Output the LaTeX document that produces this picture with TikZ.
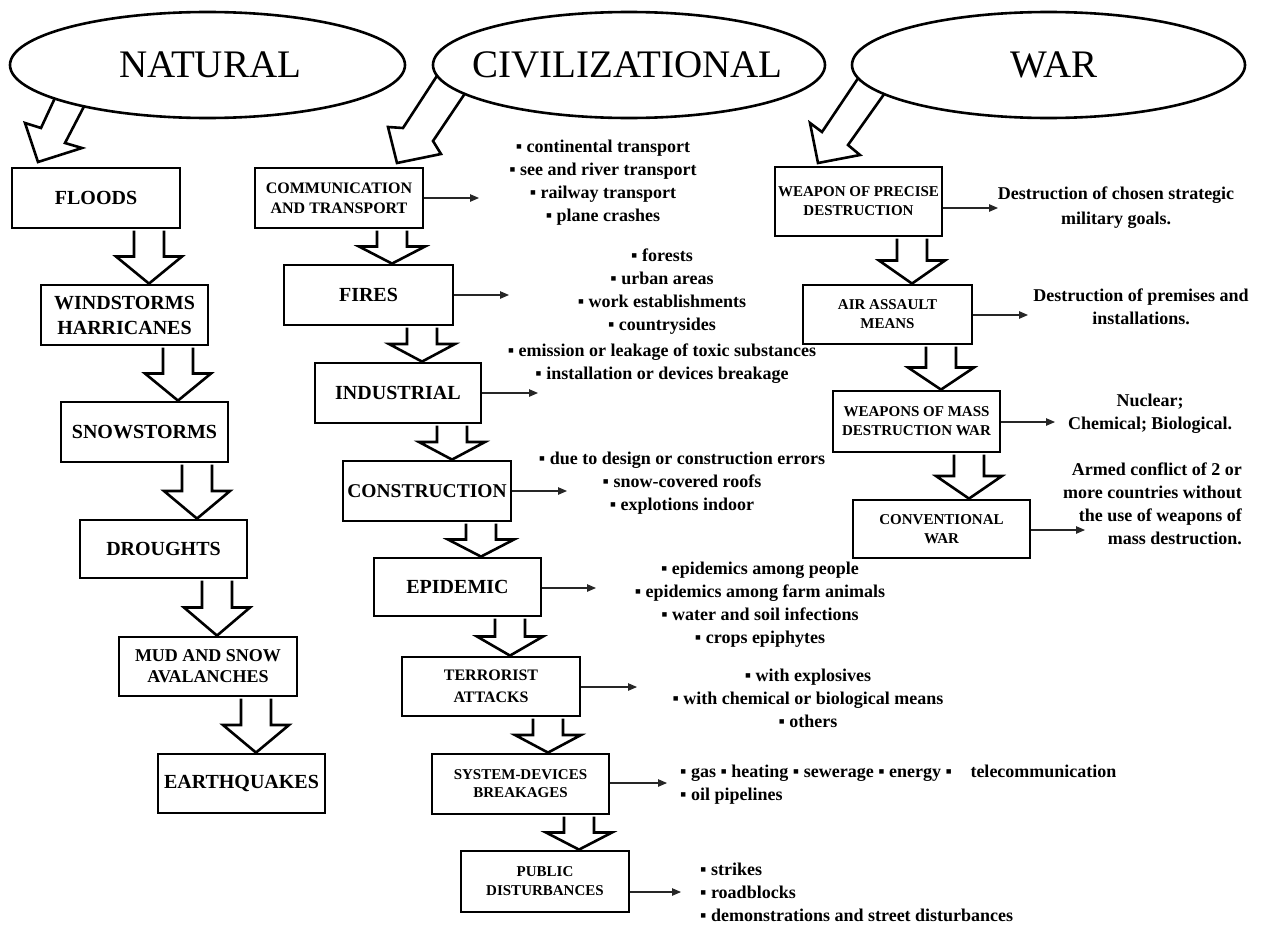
\documentclass[tikz,border=0pt]{standalone}
\usepackage{fontspec}
\setmainfont{Liberation Serif}
\usetikzlibrary{calc,arrows.meta}
\newcommand\bul{\char"25AA}
\newcommand\hdown[3]{%
  \draw[hollow] let \p1=(#2.south), \p2=(#3.north), \n1={(\y1+\y2)/2} in
    ({#1pt-15pt},{\y1-1.3pt}) -- ({#1pt-15pt},\n1) -- ({#1pt-33pt},\n1) -- (#1pt,\y2)
    -- ({#1pt+33pt},\n1) -- ({#1pt+15pt},\n1) -- ({#1pt+15pt},{\y1-1.3pt});}
\tikzset{
  box/.style={draw, line width=2.8pt, inner sep=0pt, align=center},
  hollow/.style={draw, line width=2.6pt, fill=white, line join=miter},
  sarrow/.style={line width=1.1pt, black!85, -{Triangle[length=9pt,width=7.5pt]}},
  lst/.style={align=center, font=\fontsize{18}{23}\selectfont\bfseries, inner sep=0pt},
  ell/.style={line width=2.6pt, fill=white},
  big/.style={font=\fontsize{39}{45}\selectfont, inner sep=0pt},
  fA/.style={font=\fontsize{20}{25}\selectfont\bfseries},
  fB/.style={font=\fontsize{16}{20}\selectfont\bfseries},
  fC/.style={font=\fontsize{15}{19}\selectfont\bfseries},
}
\begin{document}
\begin{tikzpicture}[x=1pt,y=-1pt]
\useasboundingbox (0,0) rectangle (1261,926);
% diagonal hollow arrows (drawn before the ellipses)
\draw[hollow] (61,85) -- (41,128) -- (25,123) -- (38,162) -- (82,148) -- (65,143) -- (91,93) -- cycle;
\draw[hollow] (446,62) -- (403,128) -- (388,127) -- (397,163) -- (441,154) -- (433,141) -- (474,80) -- cycle;
\draw[hollow] (867,65) -- (822,132) -- (810,123) -- (818,163) -- (860,155) -- (848,145) -- (892,83) -- cycle;
% ellipses
\draw[ell] (207.5,65) ellipse [x radius=197.5, y radius=53];
\draw[ell] (629,65) ellipse [x radius=196, y radius=53];
\draw[ell] (1048.5,65) ellipse [x radius=196.5, y radius=53];
\node[big] (nat) at (210,65) {NATURAL};
\node[big] (civ) at (627.5,65) {CIVILIZATIONAL};
\node[big] (war) at (1054,65) {WAR};
% natural column
\node[box,fA,minimum width=168,minimum height=60] (floods) at (96,198) {FLOODS};
\node[box,fA,minimum width=167,minimum height=60] (wind) at (124.5,315) {WINDSTORMS\\HARRICANES};
\node[box,fA,minimum width=167,minimum height=60] (snow) at (144.5,432) {SNOWSTORMS};
\node[box,fA,minimum width=167,minimum height=58] (drought) at (163.5,549) {DROUGHTS};
\node[box,font=\fontsize{18}{21}\selectfont\bfseries,minimum width=178,minimum height=59] (mud) at (208,666.5) {MUD AND SNOW\\AVALANCHES};
\node[box,fA,minimum width=167,minimum height=59] (earth) at (241.5,783.5) {EARTHQUAKES};
\hdown{149}{floods}{wind}
\hdown{178}{wind}{snow}
\hdown{197}{snow}{drought}
\hdown{217}{drought}{mud}
\hdown{256}{mud}{earth}
% civilizational column
\node[box,fB,minimum width=168,minimum height=60] (comm) at (339,198) {COMMUNICATION\\AND TRANSPORT};
\node[box,fA,minimum width=169,minimum height=60] (fires) at (368.5,295) {FIRES};
\node[box,fA,minimum width=166,minimum height=60] (ind) at (398,393) {INDUSTRIAL};
\node[box,font=\fontsize{19.5}{24}\selectfont\bfseries,minimum width=168,minimum height=60] (cons) at (427,491) {CONSTRUCTION};
\node[box,fA,minimum width=167,minimum height=58] (epi) at (457.5,587) {EPIDEMIC};
\node[box,font=\fontsize{16}{22}\selectfont\bfseries,minimum width=178,minimum height=59] (terr) at (491,686.5) {TERRORIST\\ATTACKS};
\node[box,font=\fontsize{15}{18}\selectfont\bfseries,minimum width=177,minimum height=60] (sys) at (520.5,784) {SYSTEM-DEVICES\\BREAKAGES};
\node[box,fC,minimum width=168,minimum height=61] (pub) at (545,881.5) {PUBLIC\\DISTURBANCES};
\hdown{392}{comm}{fires}
\hdown{422}{fires}{ind}
\hdown{452}{ind}{cons}
\hdown{481}{cons}{epi}
\hdown{510}{epi}{terr}
\hdown{548}{terr}{sys}
\hdown{579}{sys}{pub}
% war column
\node[box,fC,minimum width=167,minimum height=69] (wpd) at (858.5,201.5) {WEAPON OF PRECISE\\DESTRUCTION};
\node[box,fC,minimum width=169,minimum height=59] (air) at (887.5,314.5) {AIR ASSAULT\\MEANS};
\node[box,fC,minimum width=167,minimum height=61] (wmd) at (916.5,421.5) {WEAPONS OF MASS\\DESTRUCTION WAR};
\node[box,fC,minimum width=177,minimum height=58] (conv) at (941.5,529) {CONVENTIONAL\\WAR};
\hdown{912}{wpd}{air}
\hdown{941}{air}{wmd}
\hdown{969}{wmd}{conv}
% small arrows
\coordinate (c1) at (479,198);
\coordinate (c2) at (509,295);
\coordinate (c3) at (538,393);
\coordinate (c4) at (567,491);
\coordinate (c5) at (596,588);
\coordinate (c6) at (637,687);
\coordinate (c7) at (667,783);
\coordinate (c8) at (681,892);
\coordinate (w1) at (998,208);
\coordinate (w2) at (1028,315);
\coordinate (w3) at (1055,422);
\coordinate (w4) at (1085,530);
\draw[sarrow] (comm.east |- c1) -- (c1);
\draw[sarrow] (fires.east |- c2) -- (c2);
\draw[sarrow] (ind.east |- c3) -- (c3);
\draw[sarrow] (cons.east |- c4) -- (c4);
\draw[sarrow] (epi.east |- c5) -- (c5);
\draw[sarrow] (terr.east |- c6) -- (c6);
\draw[sarrow] (sys.east |- c7) -- (c7);
\draw[sarrow] (pub.east |- c8) -- (c8);
\draw[sarrow] (wpd.east |- w1) -- (w1);
\draw[sarrow] (air.east |- w2) -- (w2);
\draw[sarrow] (wmd.east |- w3) -- (w3);
\draw[sarrow] (conv.east |- w4) -- (w4);
% lists
\node[lst] (l1) at (603,182.5) {\bul{} continental transport\\\bul{} see and river transport\\\bul{} railway transport\\\bul{} plane crashes};
\node[lst] (l2) at (662,292) {\bul{} forests\\\bul{} urban areas\\\bul{} work establishments\\\bul{} countrysides};
\node[lst] (l3) at (662,364) {\bul{} emission or leakage of toxic substances\\\bul{} installation or devices breakage};
\node[lst] (l4) at (682,483.5) {\bul{} due to design or construction errors\\\bul{} snow-covered roofs\\\bul{} explotions indoor};
\node[lst] (l5) at (760,604.5) {\bul{} epidemics among people\\\bul{} epidemics among farm animals\\\bul{} water and soil infections\\\bul{} crops epiphytes};
\node[lst] (l6) at (808,698) {\bul{} with explosives\\\bul{} with chemical or biological means\\\bul{} others};
\node[lst,align=left,anchor=west] (l7) at (680,785) {\bul{} gas \bul{} heating \bul{} sewerage \bul{} energy \bul\hspace{14pt} telecommunication\\\bul{} oil pipelines};
\node[lst,align=left,anchor=west] (l8) at (700,892) {\bul{} strikes\\\bul{} roadblocks\\\bul{} demonstrations and street disturbances};
\node[lst,font=\fontsize{18}{25}\selectfont\bfseries] (t1) at (1116,207.5) {Destruction of chosen strategic\\military goals.};
\node[lst] (t2) at (1141,306.5) {Destruction of premises and\\installations.};
\node[lst] (t3) at (1150,414) {Nuclear;\\Chemical; Biological.};
\node[lst,align=right,anchor=east] (t4) at (1242,503.5) {Armed conflict of 2 or\\more countries without\\the use of weapons of\\mass destruction.};
\end{tikzpicture}
\end{document}
